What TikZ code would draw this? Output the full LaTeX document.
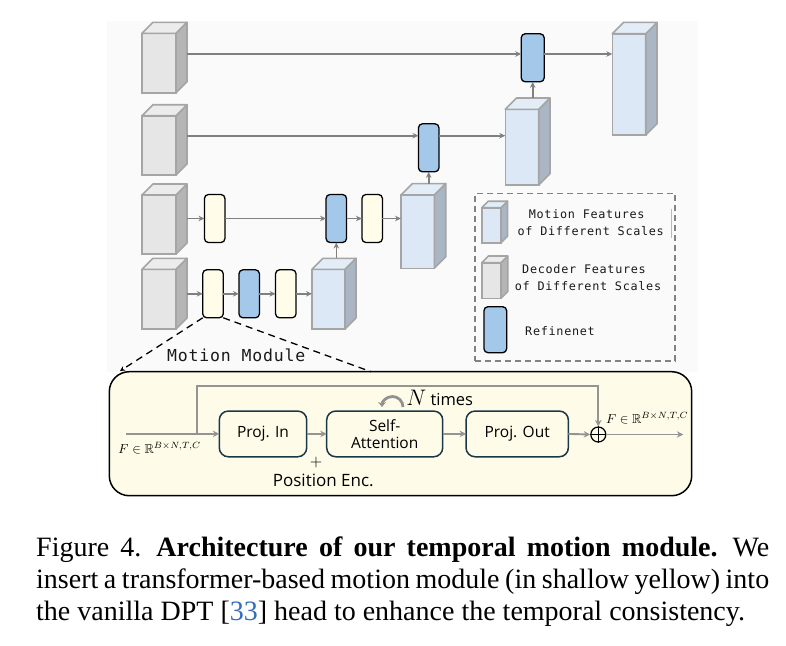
\documentclass[tikz,border=0pt]{standalone}
\usepackage{amssymb}
\usepackage{fontspec}
\setmainfont{Liberation Serif}
\newfontfamily\lgfont[LetterSpace=6]{DejaVu Sans Mono}
\newfontfamily\mmfont[LetterSpace=5]{DejaVu Sans Mono}
\newfontfamily\comicfont{Open Sans}
\usetikzlibrary{arrows.meta,calc}

\definecolor{arrgray}{RGB}{128,128,128}
\definecolor{marrgray}{RGB}{148,148,148}
\definecolor{loopgray}{RGB}{145,145,145}
\definecolor{bggray}{RGB}{250,250,250}
\definecolor{decfront}{RGB}{230,230,230}
\definecolor{decside}{RGB}{181,181,181}
\definecolor{dectop}{RGB}{236,236,236}
\definecolor{motfront}{RGB}{220,232,246}
\definecolor{motside}{RGB}{170,182,196}
\definecolor{mottop}{RGB}{226,237,248}
\definecolor{cubeedge}{RGB}{165,165,165}
\definecolor{ylw}{RGB}{255,253,233}
\definecolor{blu}{RGB}{164,200,234}
\definecolor{modfill}{RGB}{254,252,232}
\definecolor{boxedge}{RGB}{25,55,70}
\definecolor{leggray}{RGB}{130,130,130}
\definecolor{lineblue}{RGB}{160,190,225}
\definecolor{citeblue}{RGB}{50,110,190}

\tikzset{
  sbox/.style={draw=black, line width=1.3pt, rounded corners=4pt, minimum width=20.5pt, minimum height=48pt, inner sep=0pt, outer sep=0pt},
  ybox/.style={sbox, fill=ylw},
  bbox/.style={sbox, fill=blu},
  cubefront/.style={draw=cubeedge, line width=1.6pt, inner sep=0pt, outer sep=0pt},
  cubeline/.style={draw=cubeedge, line width=1.6pt, line join=round},
  arr/.style={draw=arrgray, line width=1.6pt, -{Stealth[length=6pt,width=5.5pt]}},
  marr/.style={draw=marrgray, line width=1.9pt, -{Stealth[length=6.5pt,width=6.5pt]}},
  ibox/.style={draw=boxedge, line width=1.5pt, rounded corners=9pt, fill=modfill, inner sep=0pt, outer sep=0pt, minimum height=45.7pt, font=\comicfont\fontsize{15.5}{16.6}\selectfont, align=center},
  lgtext/.style={font=\lgfont\fontsize{11.8}{13}\selectfont, text=black!90, inner sep=0pt},
  mathlbl/.style={inner sep=0pt},
  mmdash/.style={draw=black, line width=1.3pt, dash pattern=on 7pt off 5pt},
}

% name, x, y, w, h, depth, front, side, top
\newcommand{\mkcube}[9]{%
  \node[cubefront, fill=#7, minimum width=#4pt, minimum height=#5pt, anchor=north west] (#1) at (#2,#3) {};
  \filldraw[cubeline, fill=#8] (#1.north east) -- ++(#6,-#6) -- ++(0,#5) -- (#1.south east) -- cycle;
  \filldraw[cubeline, fill=#9] (#1.north west) -- ++(#6,-#6) -- ++(#4,0) -- (#1.north east) -- cycle;
  \coordinate (#1-t) at ($(#1.north)+(#6,-#6)$);
}

\begin{document}
\begin{tikzpicture}[x=1pt,y=-1pt]
\useasboundingbox (0,0) rectangle (786,645);
\fill[white] (0,0) rectangle (786,645);
\fill[bggray] (107,21) rectangle (698,372);

% decoder feature cubes
\mkcube{d1}{142}{33.3}{34}{59.4}{11}{decfront}{decside}{dectop}
\mkcube{d2}{142}{115.7}{34}{59.3}{11}{decfront}{decside}{dectop}
\mkcube{d3}{142}{195}{34}{59}{11}{decfront}{decside}{dectop}
\mkcube{d4}{142}{269.3}{34}{59.7}{11}{decfront}{decside}{dectop}

% motion feature cubes
\mkcube{m4}{312}{269.3}{33}{59.7}{11}{motfront}{motside}{mottop}
\mkcube{m3}{401}{195}{33.3}{73.3}{11.4}{motfront}{motside}{mottop}
\mkcube{m2}{505.3}{109.3}{33.4}{75.7}{11.3}{motfront}{motside}{mottop}
\mkcube{m1}{612.3}{33.7}{33.4}{101.3}{11.3}{motfront}{motside}{mottop}

% side exits of decoder cubes
\coordinate (d1-s) at (187,54);
\coordinate (d2-s) at (187,135.7);
\coordinate (d3-s) at (187,218.5);
\coordinate (d4-s) at (187,293.8);

% small blocks
\node[ybox] (y3a) at (214.7,218.5) {};
\node[bbox] (b3)  at (336.3,218.5) {};
\node[ybox] (y3b) at (372.2,218.5) {};
\node[ybox] (y4a) at (213,293.8) {};
\node[bbox] (b4)  at (249.2,293.8) {};
\node[ybox] (y4b) at (285.8,293.8) {};
\node[bbox] (b2)  at (428.7,147.8) {};
\node[bbox, minimum width=23pt] (b1) at (532.7,57.8) {};

% arrows, row 1
\draw[arr] (d1-s) -- (d1-s -| b1.west);
\draw[arr] (d1-s -| b1.east) -- (d1-s -| m1.west);
% row 2
\draw[arr] (d2-s) -- (d2-s -| b2.west);
\draw[arr] (d2-s -| b2.east) -- (d2-s -| m2.west);
% row 3
\draw[arr] (d3-s) -- (y3a.west);
\draw[arr] (y3a.east) -- (b3.west);
\draw[arr] (b3.east) -- (y3b.west);
\draw[arr] (y3b.east) -- (d3-s -| m3.west);
% row 4
\draw[arr] (d4-s) -- (y4a.west);
\draw[arr] (y4a.east) -- (b4.west);
\draw[arr] (b4.east) -- (y4b.west);
\draw[arr] (y4b.east) -- (d4-s -| m4.west);
% vertical
\draw[arr] (b3.south |- m4-t) -- (b3.south);
\draw[arr] (b2.south |- m3-t) -- (b2.south);
\draw[arr] (b1.south |- m2-t) -- (b1.south);

% legend
\node[draw=leggray, line width=1.3pt, dash pattern=on 6pt off 4pt, minimum width=200pt, minimum height=167.7pt, inner sep=0pt] (leg) at (575,277.2) {};
\mkcube{lm}{481.7}{207.7}{19.3}{35}{6.5}{motfront}{motside}{mottop}
\mkcube{ld}{481.7}{262.7}{19.3}{35.6}{6.7}{decfront}{decside}{dectop}
\node[bbox, minimum width=22.7pt, minimum height=46pt] (lb) at (495.3,329.7) {};
\node[lgtext] (lt1) at (586.7,214.3) {Motion Features};
\node[lgtext] (lt2) at (590.7,231) {of Different Scales};
\node[lgtext] (lt3) at (584,269.3) {Decoder Features};
\node[lgtext] (lt4) at (588,286) {of Different Scales};
\node[lgtext] (lt5) at (560,330.7) {Refinenet};
\draw[draw=lineblue, line width=0.8pt] (671,209) -- (671,238);

% motion module call-out
\node[font=\mmfont\fontsize{16.5}{18}\selectfont, text=black!90, inner sep=0pt] (mml) at (236.3,355.7) {Motion Module};
\coordinate (mmL) at (120,371);
\coordinate (mmR) at (371,371.7);

% module box
\node[draw=black, line width=1.5pt, rounded corners=20pt, fill=modfill, minimum width=582.4pt, minimum height=124pt, inner sep=0pt, outer sep=0pt] (mm) at (400.5,433.7) {};
\draw[mmdash, -{Stealth[length=5pt,width=5pt]}] (y4a.south west) -- (mmL);
\draw[mmdash] (y4a.south east) -- (mmR);

\node[ibox, minimum width=87.4pt] (pin) at (263,433.9) {Proj. In};
\node[ibox, minimum width=116pt] (sa) at (384.7,433.9) {Self-\\Attention};
\node[ibox, minimum width=102.3pt] (pout) at (517.2,433.9) {Proj. Out};
\node[circle, draw=black, line width=1.2pt, minimum size=15pt, inner sep=0pt, fill=modfill] (pl) at (598.3,434.5) {};
\draw[line width=1.2pt] (pl.north) -- (pl.south) (pl.west) -- (pl.east);

\coordinate (fin) at (126,433.9);
\coordinate (br) at (196.7,433.9);
\coordinate (brt) at (196.7,385.7);
\coordinate (fout) at (683.3,434.5);
\draw[marr] (fin) -- (pin.west);
\draw[marr] (br) -- (brt) -| (pl.north);
\draw[marr] (pin.east) -- (sa.west);
\draw[marr] (sa.east) -- (pout.west);
\draw[marr] (pout.east) -- (pl.west);
\draw[marr] (pl.east) -- (fout);

% N times loop
\coordinate (lpR) at (403,407);
\draw[draw=loopgray, line width=2.8pt, -{Stealth[length=5pt,width=8pt]}] (lpR) arc[start angle=0, end angle=180, radius=10.5pt];
\node[font=\comicfont\fontsize{16.5}{18}\selectfont, inner sep=0pt] (nt) at (439.7,398.3) {\scalebox{1.3}{$N$} times};

% labels
\node[mathlbl] (fl) at (159.7,448.3) {\scalebox{1.3}{$F\in\mathbb{R}^{B\times N,T,C}$}};
\node[mathlbl] (fr) at (647.2,418.3) {\scalebox{1.3}{$F\in\mathbb{R}^{B\times N,T,C}$}};
\node[inner sep=0pt] (pe) at (316,462.3) {\scalebox{1.6}{$+$}};
\node[font=\comicfont\fontsize{17}{20}\selectfont, inner sep=0pt] (pos) at (323.3,480) {Position Enc.};

% caption
\node[anchor=base west, inner sep=0pt] (cap) at (36,556) {\parbox[t]{733pt}{\fontsize{28}{32.3}\selectfont\hyphenpenalty=10000 Figure 4.\hspace{15pt}\textbf{Architecture of our temporal motion module.}\hspace{15pt}We insert a transformer-based motion module (in shallow yellow) into the vanilla DPT [\textcolor{citeblue}{33}] head to enhance the temporal consistency.}};
\end{tikzpicture}
\end{document}
